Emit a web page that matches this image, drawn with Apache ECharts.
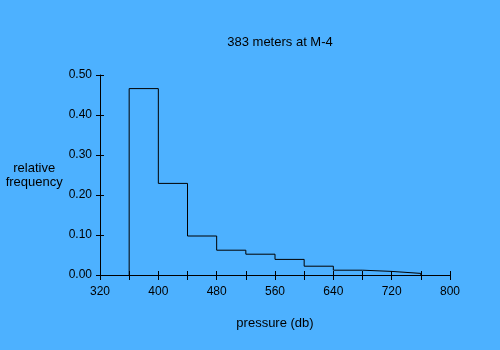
<!DOCTYPE html>
<html><head><meta charset="utf-8">
<script src="https://cdn.jsdelivr.net/npm/echarts@6/dist/echarts.min.js"></script>
<style>html,body{margin:0;padding:0;background:#4db1ff}#c{width:500px;height:350px}</style>
</head><body><div id="c"></div>
<script>
const binEdges = [360, 400, 440, 480, 520, 560, 600, 640, 680, 720, 760];
const frequencies = [0.466, 0.229, 0.0975, 0.062, 0.052, 0.039, 0.022, 0.012, 0.009, 0.004];
const titleText = '383 meters at M-4';
const xName = 'pressure (db)';
const yName = 'relative\nfrequency';

// build step outline of histogram
const pts = [[binEdges[0], 0]];
for (let i = 0; i < frequencies.length; i++) {
  pts.push([binEdges[i], frequencies[i]]);
  pts.push([binEdges[i + 1], frequencies[i]]);
}
pts.push([binEdges[binEdges.length - 1], 0]);

const font = 'Liberation Sans, Arial, sans-serif';
const chart = echarts.init(document.getElementById('c'), null, {renderer: 'canvas'});
const grid = {left: 100, top: 75, width: 350, height: 200};
chart.setOption({
  backgroundColor: '#4db1ff',
  animation: false,
  title: {text: titleText, left: 275, top: 31, textAlign: 'center',
    textStyle: {fontFamily: font, fontSize: 13, fontWeight: 'normal', color: '#000'}},
  grid: grid,
  xAxis: [{
    type: 'value', min: 320, max: 800, interval: 40,
    name: xName, nameLocation: 'middle', nameGap: 42,
    nameTextStyle: {fontFamily: font, fontSize: 13, color: '#000'},
    axisLine: {lineStyle: {color: '#000', width: 1}},
    axisTick: {show: true, length: 5, lineStyle: {color: '#000'}},
    axisLabel: {fontFamily: font, fontSize: 12, color: '#000', margin: 11,
      formatter: v => ((v - 320) % 80 === 0 ? String(v) : '')},
    splitLine: {show: false}
  }, {
    type: 'value', min: 320, max: 800, interval: 40, position: 'bottom',
    axisLine: {show: false},
    axisTick: {show: true, inside: true, length: 4, lineStyle: {color: '#000'}},
    axisLabel: {show: false}, splitLine: {show: false}
  }],
  yAxis: [{
    type: 'value', min: 0, max: 0.5, interval: 0.1,
    name: yName, nameLocation: 'middle', nameGap: 63, nameRotate: 0,
    nameTextStyle: {fontFamily: font, fontSize: 13, color: '#000', align: 'center', lineHeight: 14},
    axisLine: {show: true, lineStyle: {color: '#000', width: 1}},
    axisTick: {show: true, length: 4, lineStyle: {color: '#000'}},
    axisLabel: {fontFamily: font, fontSize: 12, color: '#000', margin: 8,
      formatter: v => v.toFixed(2)},
    splitLine: {show: false}
  }, {
    type: 'value', min: 0, max: 0.5, interval: 0.1, position: 'left',
    axisLine: {show: false},
    axisTick: {show: true, inside: true, length: 4, lineStyle: {color: '#000'}},
    axisLabel: {show: false}, splitLine: {show: false}
  }],
  series: [{
    type: 'line', data: pts, xAxisIndex: 0, yAxisIndex: 0,
    showSymbol: false, symbol: 'none',
    lineStyle: {color: '#000', width: 1}
  }]
});
</script></body></html>
